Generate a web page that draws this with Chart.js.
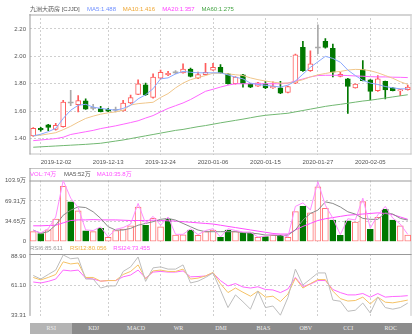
<!DOCTYPE html>
<html>
<head>
<meta charset="utf-8">
<script src="https://cdn.jsdelivr.net/npm/chart.js@4.4.1/dist/chart.umd.min.js"></script>
<style>
  body { margin: 0; background: #fff; }
  #wrap { position: relative; width: 415px; height: 335px; overflow: hidden;
          font-family: "Liberation Sans", "Noto Sans CJK SC", sans-serif; }
  canvas { position: absolute; left: 0; }
  .lg { position: absolute; font-size: 6px; line-height: 8px; white-space: nowrap; }
  #tabs { position: absolute; left: 30px; top: 323px; width: 382px; height: 11px;
          display: flex; background: #8c8c8c; }
  #tabs div { flex: 1; text-align: center; font: 6px "Liberation Serif", serif;
              color: #eee; line-height: 11px; }
  #tabs div.on { background: #b4b4b4; }
</style>
</head>
<body>
<div id="wrap">
  <canvas id="main" width="415" height="170" style="top:0"></canvas>
  <canvas id="vol" width="415" height="86" style="top:168px"></canvas>
  <canvas id="rsi" width="415" height="79" style="top:244px"></canvas>

  <span class="lg" style="top:5px;left:30px;color:#555">九洲大药房 [CJJD]</span>
  <span class="lg" style="top:5px;left:87px;color:#6f8fff">MA5:1.488</span>
  <span class="lg" style="top:5px;left:122.7px;color:#eea530">MA10:1.416</span>
  <span class="lg" style="top:5px;left:162.3px;color:#ff40ff">MA20:1.357</span>
  <span class="lg" style="top:5px;left:201.5px;color:#45a545">MA60:1.275</span>

  <span class="lg" style="top:170px;left:30px;color:#ff50ff">VOL:74万</span>
  <span class="lg" style="top:170px;left:64px;color:#555">MA5:52万</span>
  <span class="lg" style="top:170px;left:96.7px;color:#ff50ff">MA10:35.8万</span>

  <span class="lg" style="top:243.7px;left:30px;color:#999">RSI6:85.611</span>
  <span class="lg" style="top:243.7px;left:70px;color:#f0b040">RSI12:80.056</span>
  <span class="lg" style="top:243.7px;left:113.3px;color:#ff50ff">RSI24:73.455</span>

  <div id="tabs"></div>
</div>
<script>
const dates = ['2019-11-29', '2019-12-02', '2019-12-03', '2019-12-04', '2019-12-05', '2019-12-06',
  '2019-12-09', '2019-12-10', '2019-12-11', '2019-12-12', '2019-12-13', '2019-12-16', '2019-12-17',
  '2019-12-18', '2019-12-19', '2019-12-20', '2019-12-23', '2019-12-24', '2019-12-25', '2019-12-26',
  '2019-12-27', '2019-12-30', '2019-12-31', '2020-01-03', '2020-01-06', '2020-01-07', '2020-01-08',
  '2020-01-09', '2020-01-10', '2020-01-13', '2020-01-14', '2020-01-15', '2020-01-16', '2020-01-17',
  '2020-01-20', '2020-01-21', '2020-01-22', '2020-01-23', '2020-01-27', '2020-01-28', '2020-01-29',
  '2020-01-30', '2020-01-31', '2020-02-03', '2020-02-04', '2020-02-05', '2020-02-06', '2020-02-07',
  '2020-02-10', '2020-02-11', '2020-02-12'];

const opens = [1.42, 1.475, 1.50, 1.467, 1.487, 1.66, 1.648, 1.675, 1.62, 1.619, 1.614, 1.607, 1.602,
  1.66, 1.723, 1.793, 1.70, 1.84, 1.865, 1.88, 1.88, 1.908, 1.84, 1.867, 1.90, 1.92, 1.872, 1.80,
  1.865, 1.80, 1.783, 1.80, 1.769, 1.771, 1.737, 1.805, 2.065, 1.896, 2.061, 2.109, 2.058, 1.853,
  1.836, 1.77, 1.903, 1.828, 1.75, 1.817, 1.77, 1.747, 1.757];
const highs = [1.48, 1.482, 1.505, 1.512, 1.68, 1.752, 1.713, 1.69, 1.65, 1.636, 1.62, 1.63, 1.68,
  1.717, 1.829, 1.805, 1.872, 1.90, 1.89, 1.897, 1.945, 1.915, 1.885, 1.95, 1.95, 1.94, 1.875, 1.852,
  1.868, 1.803, 1.81, 1.817, 1.814, 1.817, 1.784, 2.017, 2.11, 2.04, 2.23, 2.13, 2.09, 1.884, 1.84,
  1.80, 1.97, 1.83, 1.86, 1.82, 1.772, 1.76, 1.79];
const lows = [1.415, 1.455, 1.457, 1.462, 1.483, 1.64, 1.595, 1.612, 1.61, 1.594, 1.597, 1.595, 1.60,
  1.655, 1.72, 1.715, 1.695, 1.835, 1.86, 1.872, 1.878, 1.85, 1.838, 1.865, 1.897, 1.878, 1.797,
  1.797, 1.776, 1.772, 1.78, 1.765, 1.766, 1.728, 1.733, 1.80, 1.89, 1.89, 2.02, 2.06, 1.85, 1.85,
  1.583, 1.767, 1.82, 1.683, 1.745, 1.69, 1.748, 1.714, 1.754];
const closes = [1.475, 1.463, 1.482, 1.497, 1.667, 1.66, 1.677, 1.615, 1.62, 1.597, 1.60, 1.607,
  1.66, 1.70, 1.80, 1.72, 1.848, 1.884, 1.877, 1.88, 1.908, 1.853, 1.867, 1.884, 1.92, 1.88, 1.80,
  1.848, 1.80, 1.776, 1.807, 1.769, 1.783, 1.732, 1.78, 2.012, 1.896, 1.945, 2.061, 2.065, 1.884,
  1.868, 1.78, 1.797, 1.823, 1.745, 1.836, 1.755, 1.75, 1.757, 1.776];

const ma5 = [1.42, 1.432, 1.45, 1.475, 1.547, 1.607, 1.643, 1.65, 1.63, 1.62, 1.614, 1.607, 1.62,
  1.643, 1.69, 1.72, 1.764, 1.836, 1.843, 1.872, 1.89, 1.884, 1.88, 1.88, 1.88, 1.88, 1.865, 1.848,
  1.836, 1.805, 1.795, 1.788, 1.783, 1.776, 1.79, 1.82, 1.87, 1.92, 1.96, 2.00, 1.985, 1.957, 1.90,
  1.86, 1.825, 1.805, 1.795, 1.78, 1.77, 1.763, 1.763];
const ma10 = [1.42, 1.425, 1.434, 1.443, 1.465, 1.49, 1.52, 1.547, 1.564, 1.578, 1.588, 1.595, 1.607,
  1.645, 1.655, 1.66, 1.665, 1.70, 1.728, 1.77, 1.805, 1.83, 1.845, 1.86, 1.877, 1.877, 1.872, 1.866,
  1.86, 1.843, 1.83, 1.82, 1.812, 1.805, 1.805, 1.815, 1.83, 1.85, 1.865, 1.875, 1.885, 1.89, 1.90,
  1.905, 1.903, 1.895, 1.88, 1.86, 1.84, 1.815, 1.795];
const ma20 = [1.385, 1.39, 1.395, 1.40, 1.41, 1.43, 1.44, 1.45, 1.46, 1.473, 1.483, 1.493, 1.505,
  1.517, 1.53, 1.55, 1.568, 1.595, 1.62, 1.64, 1.66, 1.685, 1.715, 1.745, 1.76, 1.776, 1.79, 1.80,
  1.80, 1.80, 1.80, 1.80, 1.80, 1.80, 1.805, 1.82, 1.835, 1.85, 1.86, 1.862, 1.862, 1.862, 1.86,
  1.857, 1.855, 1.852, 1.85, 1.85, 1.848, 1.847, 1.845];
const ma60 = [1.337, 1.34, 1.343, 1.346, 1.349, 1.352, 1.355, 1.358, 1.362, 1.366, 1.374, 1.382,
  1.39, 1.40, 1.41, 1.42, 1.43, 1.44, 1.45, 1.46, 1.467, 1.477, 1.487, 1.495, 1.505, 1.515, 1.524,
  1.533, 1.542, 1.552, 1.562, 1.57, 1.575, 1.58, 1.585, 1.595, 1.605, 1.615, 1.625, 1.635, 1.643,
  1.65, 1.658, 1.666, 1.674, 1.68, 1.688, 1.696, 1.704, 1.712, 1.72];

// volume, in 万
const vols = [17, 14, 20, 38.4, 94, 67.7, 52.5, 18.6, 17, 22.6, 7.4, 19, 21.5, 27, 59, 28, 39.5,
  25.4, 38, 11.3, 11.5, 19.8, 11, 17, 19.8, 7.4, 19.8, 17, 15, 15, 7.4, 8.5, 11.3, 11.3, 7.4, 51,
  60, 49, 93, 56.5, 36.7, 11, 35.5, 33.5, 68, 21, 41.5, 54.8, 36.7, 27, 11.3];
const volLine = [19, 15, 22, 42, 103.9, 74, 58, 20, 19, 25, 8, 21, 24, 30, 65, 31, 43, 28, 42,
  12.5, 12.5, 22, 12, 19, 22, 8, 22, 19, 16.5, 16.5, 8, 9.5, 12.5, 12.5, 8, 60, 66, 54, 102, 62,
  40, 12, 39, 37, 74, 23, 45.5, 60, 40, 30, 12.5];
const volMa5 = [19.8, 14.2, 17, 28.3, 45, 53.6, 59.2, 58, 50.8, 39.6, 25.4, 19.8, 19.8, 22.6, 28,
  31, 34, 38, 39.6, 36.7, 31, 25.4, 19.8, 17, 17, 17, 17, 17, 15.5, 14.6, 13.5, 11.3, 11.3, 10,
  11.3, 19.8, 36.7, 48, 53.6, 67.7, 65, 59, 50.8, 46.9, 39.6, 38, 38, 49, 47, 39.6, 36.7];
const volMa10 = [27, 27, 27.5, 28, 32, 36, 37, 37, 37.5, 37, 37, 37, 36.5, 36, 36, 36, 36.5, 36,
  35.5, 35, 34, 33, 32, 31, 30, 28, 26, 24, 22, 20, 18, 16, 14, 13, 13, 20, 26, 31, 36, 39, 41,
  43, 45, 46, 47, 48, 49, 48, 46, 42, 38];

const rsi6 = [70.9, 67.5, 71.8, 76, 90.3, 86.7, 87.5, 67.5, 67.5, 59, 61, 61, 74.7, 79, 88.4, 65.3,
  78.1, 79, 76.9, 76.9, 80.9, 63.8, 65.5, 69, 73.3, 57, 40.5, 52.5, 46, 39, 56.1, 40.5, 42, 33.3,
  50, 76.9, 61.9, 67.5, 73.3, 73.3, 47.6, 46.5, 37, 38, 44.8, 35.3, 50.4, 40.5, 39, 40.5, 44.8];
const rsi12 = [69, 66.7, 69, 71.8, 83.8, 81.8, 82.7, 69, 69, 65.5, 66.1, 66.1, 71.8, 74.7, 80.9,
  67.5, 75.2, 76, 74.7, 74.7, 76.9, 67.5, 68.4, 70.4, 73.8, 63, 54.7, 59, 55, 51.3, 56.1, 50.4,
  51.3, 46.2, 53.3, 68.4, 59, 63.2, 67, 67, 56.1, 49, 46.7, 47.2, 50.4, 43.9, 50.4, 45.6, 45,
  46.2, 47.6];
const rsi24 = [64.7, 63.8, 65.3, 67.5, 76, 75.2, 76, 68.4, 67.5, 65.5, 66.1, 66.1, 69.6, 71.3, 76,
  68.4, 74.1, 74.7, 74.1, 74.1, 75.2, 69.6, 69.9, 70.4, 73.3, 66, 61, 63.2, 60, 59, 60.2, 57.6,
  57.2, 54.7, 58.1, 69, 60.4, 62.7, 66.1, 66.1, 57.6, 54.7, 52.5, 52.5, 53.8, 50.4, 53.8, 50.4,
  51, 51.2, 51.8];

const dateTicks = [1, 10, 17, 24, 31, 38, 45];
const priceTicks = [1.4, 1.6, 1.8, 2.0, 2.2];
const volTicks = [0, 34.65, 69.31, 103.9];
const volTickLabels = ['0', '34.65万', '69.31万', '103.9万'];
const rsiTicks = [33.31, 61.10, 88.90];
const tabNames = ['RSI', 'KDJ', 'MACD', 'WR', 'DMI', 'BIAS', 'OBV', 'CCI', 'ROC'];

const RED = '#ff5c5c', GREEN = '#007800', DOJI = '#aaaaaa', GRID = '#cfcfcf', NONE = 'rgba(0,0,0,0)';
const FONT = { family: '"Liberation Sans", "Noto Sans CJK SC", sans-serif', size: 6 };

const candleCol = opens.map((o, i) => closes[i] > o ? RED : closes[i] < o ? GREEN : DOJI);
const volUp = closes.map((c, i) => i === 0 || c >= closes[i - 1]);

const tabs = document.getElementById('tabs');
tabNames.forEach((n, i) => {
  const d = document.createElement('div');
  d.textContent = n;
  if (i === 0) d.className = 'on';
  tabs.appendChild(d);
});

// light frame round each panel, plus a solid line on the plot top where asked
const framePlugin = {
  id: 'frame',
  beforeDatasetsDraw(chart, args, o) {
    const { ctx, chartArea: a } = chart;
    const top = o.top !== undefined ? o.top : a.top;
    const bottom = o.bottom !== undefined ? o.bottom : a.bottom;
    ctx.save();
    ctx.lineWidth = 1;
    ctx.strokeStyle = '#c4c4c4';
    ctx.beginPath();
    ctx.moveTo(a.right - 0.5, top); ctx.lineTo(a.right - 0.5, bottom);
    if (o.bottomLine) { ctx.moveTo(a.left, bottom - 0.5); ctx.lineTo(a.right, bottom - 0.5); }
    ctx.stroke();
    ctx.lineWidth = o.topWidth || 1;
    ctx.strokeStyle = o.topColor || '#c4c4c4';
    ctx.beginPath();
    ctx.moveTo(a.left, top + ctx.lineWidth / 2); ctx.lineTo(a.right, top + ctx.lineWidth / 2);
    ctx.stroke();
    ctx.lineWidth = 1;
    ctx.strokeStyle = '#999';
    ctx.beginPath();
    ctx.moveTo(a.left + 0.5, top); ctx.lineTo(a.left + 0.5, bottom);
    if (o.topLine) { ctx.moveTo(a.left, a.top + 0.5); ctx.lineTo(a.right, a.top + 0.5); }
    ctx.stroke();
    ctx.restore();
  }
};

function xAxis(showLabels, height) {
  return {
    type: 'category',
    offset: true,
    afterBuildTicks: s => { s.ticks = dateTicks.concat([dates.length - 1]).map(v => ({ value: v })); },
    afterFit: s => { s.height = height; },
    grid: { offset: false, drawTicks: false,
            color: c => c.tick && dateTicks.includes(c.tick.value) ? GRID : NONE },
    border: { display: false, dash: [2, 2] },
    ticks: { display: showLabels, autoSkip: false, maxRotation: 0, align: 'inner', padding: 4.5,
             color: '#555', font: FONT, callback: v => dateTicks.includes(v) ? dates[v] : '' }
  };
}

function yAxis(min, max, ticks, label, gridCol) {
  return {
    min: min, max: max,
    afterBuildTicks: s => { s.ticks = ticks.map(v => ({ value: v })); },
    afterFit: s => { s.width = 29.5; },
    grid: { drawTicks: false, color: gridCol },
    border: { display: false, dash: [2, 2] },
    ticks: { padding: 3.5, color: '#555', font: FONT, callback: label }
  };
}

function line(data, color) {
  return { type: 'line', data: data, borderColor: color, borderWidth: 1, pointRadius: 0, order: 0 };
}

const base = {
  responsive: false,
  animation: false,
  events: [],
  plugins: { legend: { display: false }, tooltip: { enabled: false } }
};

new Chart(document.getElementById('main'), {
  data: {
    labels: dates,
    datasets: [
      line(ma5, '#8aa8ff'),
      line(ma10, '#f0c68a'),
      line(ma20, '#ff66ff'),
      line(ma60, '#72b872'),
      { type: 'bar', data: opens.map((o, i) => [o, closes[i]]), barThickness: 5, minBarLength: 1,
        grouped: false, order: 1, borderSkipped: false,
        backgroundColor: candleCol.map(c => c === RED ? '#fff' : c),
        borderColor: candleCol, borderWidth: candleCol.map(c => c === DOJI ? 0 : 1) },
      { type: 'bar', data: lows.map((l, i) => [l, highs[i]]), barThickness: 1, grouped: false,
        order: 2, backgroundColor: candleCol }
    ]
  },
  options: Object.assign({}, base, {
    layout: { padding: { top: 14, right: 3.5, bottom: 2, left: 0 } },
    plugins: Object.assign({}, base.plugins,
      { frame: { bottomLine: true, topWidth: 2, topColor: '#d4d4d4' } }),
    scales: {
      x: xAxis(true, 13.5),
      y: yAxis(1.284, 2.309, priceTicks, v => v.toFixed(2), GRID)
    }
  }),
  plugins: [framePlugin]
});

new Chart(document.getElementById('vol'), {
  data: {
    labels: dates,
    datasets: [
      line(volLine, '#ff8cff'),
      line(volMa5, '#8a8a8a'),
      line(volMa10, '#ff4dff'),
      { type: 'bar', data: vols, barThickness: 6, grouped: false, order: 1, borderSkipped: false,
        backgroundColor: volUp.map(u => u ? '#fff' : GREEN),
        borderColor: volUp.map(u => u ? '#ff7474' : GREEN), borderWidth: 1 }
    ]
  },
  options: Object.assign({}, base, {
    layout: { padding: { top: 12.5, right: 3.5, bottom: 12.3, left: 0 } },
    plugins: Object.assign({}, base.plugins, { frame: { top: 0, bottom: 86, topLine: true } }),
    scales: {
      x: xAxis(false, 0),
      y: yAxis(0, 103.96, volTicks, (v, i) => volTickLabels[i],
               c => c.tick && (c.tick.value === 0 || c.tick.value === 103.9) ? NONE : GRID)
    }
  }),
  plugins: [framePlugin]
});

new Chart(document.getElementById('rsi'), {
  data: {
    labels: dates,
    datasets: [
      line(rsi6, '#bdbdbd'),
      line(rsi12, '#f5c265'),
      line(rsi24, '#ff66ff')
    ]
  },
  options: Object.assign({}, base, {
    layout: { padding: { top: 10, right: 3.5, bottom: 0.5, left: 0 } },
    plugins: Object.assign({}, base.plugins, { frame: { topLine: true } }),
    scales: {
      x: xAxis(false, 0),
      y: yAxis(32.63, 91.21, rsiTicks, v => v.toFixed(2),
               c => c.tick && c.tick.value === 61.10 ? GRID : NONE)
    }
  }),
  plugins: [framePlugin]
});
</script>
</body>
</html>
